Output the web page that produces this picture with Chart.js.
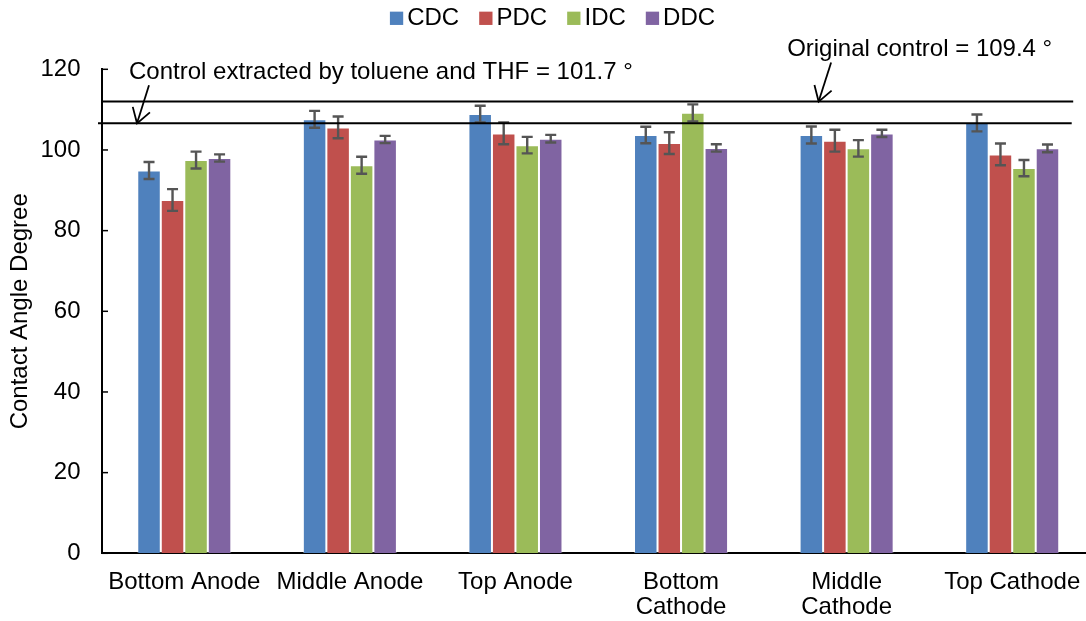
<!DOCTYPE html>
<html>
<head>
<meta charset="utf-8">
<script src="https://cdn.jsdelivr.net/npm/chart.js@4.4.1/dist/chart.umd.min.js"></script>
<style>
html,body{margin:0;padding:0;width:1086px;height:621px;overflow:hidden;background:#fff;}
#wrap{position:relative;width:1100px;height:621px;}
</style>
</head>
<body>
<div id="wrap"><canvas id="c"></canvas></div>
<script>
// ---- data ----
const categories = ["Bottom Anode", "Middle Anode", "Top Anode", ["Bottom", "Cathode"], ["Middle", "Cathode"], "Top Cathode"];
const seriesNames = ["CDC", "PDC", "IDC", "DDC"];
const CDC = [94.9, 107.6, 108.9, 103.7, 103.7, 106.7];
const PDC = [87.6, 105.6, 104.1, 101.7, 102.3, 98.9];
const IDC = [97.5, 96.2, 101.2, 109.2, 100.4, 95.5];
const DDC = [98.0, 102.6, 102.8, 100.5, 104.1, 100.4];
const CDC_err = [2.1, 2.1, 2.05, 2.05, 2.1, 2.1];
const PDC_err = [2.7, 2.7, 2.7, 2.7, 2.7, 2.7];
const IDC_err = [2.1, 2.1, 2.05, 2.1, 2.05, 2.0];
const DDC_err = [0.9, 0.9, 0.95, 0.9, 0.9, 0.95];
const yTicks = [0, 20, 40, 60, 80, 100, 120];
const controlOriginal = 112.0;   // drawn position of "Original control" line
const controlExtracted = 106.6;  // drawn position of "Control extracted" line
const labelOriginal = "Original control = 109.4 °";
const labelExtracted = "Control extracted by toluene and THF = 101.7 °";
const yTitle = "Contact Angle Degree";

const colors = ["#4F81BD", "#C0504D", "#9BBB59", "#8064A2"];
const values = [CDC, PDC, IDC, DDC];
const errors = [CDC_err, PDC_err, IDC_err, DDC_err];
const FONT = "'Liberation Sans', Arial, sans-serif";

function arrow(ctx, tx, ty, vx, vy) {
  ctx.beginPath();
  ctx.moveTo(tx + vx, ty + vy);
  ctx.lineTo(tx, ty);
  ctx.stroke();
  const ang = Math.atan2(vy, vx);
  const L = 17, a = 32 * Math.PI / 180;
  ctx.beginPath();
  ctx.moveTo(tx + L * Math.cos(ang - a), ty + L * Math.sin(ang - a));
  ctx.lineTo(tx, ty);
  ctx.lineTo(tx + L * Math.cos(ang + a), ty + L * Math.sin(ang + a));
  ctx.stroke();
}

const extras = {
  id: 'extras',
  afterDatasetsDraw(chart) {
    const ctx = chart.ctx, ys = chart.scales.y;
    ctx.save();
    ctx.strokeStyle = '#555555';
    ctx.lineWidth = 2.4;
    chart.data.datasets.forEach((ds, i) => {
      const meta = chart.getDatasetMeta(i);
      meta.data.forEach((el, j) => {
        const v = ds.data[j], e = errors[i][j];
        const yt = ys.getPixelForValue(v + e), yb = ys.getPixelForValue(v - e);
        const cx = el.x, hw = 5.5;
        ctx.beginPath();
        ctx.moveTo(cx, yt); ctx.lineTo(cx, yb);
        ctx.moveTo(cx - hw, yt); ctx.lineTo(cx + hw, yt);
        ctx.moveTo(cx - hw, yb); ctx.lineTo(cx + hw, yb);
        ctx.stroke();
      });
    });
    ctx.restore();
  },
  afterDraw(chart) {
    const ctx = chart.ctx, ys = chart.scales.y, xs = chart.scales.x, ca = chart.chartArea;
    ctx.save();
    ctx.strokeStyle = '#000';
    ctx.lineWidth = 1.5;
    ys.ticks.forEach(t => {
      const py = ys.getPixelForValue(t.value);
      ctx.beginPath(); ctx.moveTo(ca.left, py); ctx.lineTo(ca.left + 6.5, py); ctx.stroke();
    });
    const lastX = xs.getPixelForValue(categories.length - 1);
    const yU = ys.getPixelForValue(controlOriginal);
    const yL = ys.getPixelForValue(controlExtracted);
    ctx.lineWidth = 2;
    ctx.strokeStyle = '#000';
    ctx.beginPath(); ctx.moveTo(ca.left, yU); ctx.lineTo(lastX + 61, yU); ctx.stroke();
    ctx.beginPath(); ctx.moveTo(ca.left - 3.5, yL); ctx.lineTo(lastX + 59.5, yL); ctx.stroke();
    ctx.lineWidth = 1.8;
    const tipLx = ca.left + 35.5;
    arrow(ctx, tipLx, yL, 12, -38);
    const tipUx = xs.getPixelForValue(4) - 28;
    arrow(ctx, tipUx, yU, 12.5, -39);
    ctx.fillStyle = '#000';
    ctx.font = "24px " + FONT;
    ctx.textAlign = 'left';
    ctx.textBaseline = 'alphabetic';
    ctx.fillText(labelExtracted, ca.left + 27.5, yL - 44);
    ctx.fillText(labelOriginal, tipUx - 31.5, yU - 46);
    const box = 13.3, gapT = 4, gapI = 20, cy = 18.3;
    const widths = seriesNames.map(n => ctx.measureText(n).width);
    let total = 0;
    widths.forEach(w => total += box + gapT + w);
    total += gapI * (seriesNames.length - 1);
    let lx = chart.width / 2 + 2.5 - total / 2;
    ctx.textBaseline = 'middle';
    seriesNames.forEach((n, i) => {
      ctx.fillStyle = colors[i];
      ctx.fillRect(lx, cy - box / 2, box, box);
      ctx.fillStyle = '#000';
      ctx.fillText(n, lx + box + gapT, cy + 0.5);
      lx += box + gapT + widths[i] + gapI;
    });
    ctx.restore();
  }
};

const chart = new Chart(document.getElementById('c'), {
  type: 'bar',
  data: {
    labels: categories,
    datasets: seriesNames.map((n, i) => ({
      label: n,
      data: values[i],
      backgroundColor: colors[i],
      borderColor: 'rgba(255,255,255,0.35)',
      borderWidth: 1,
      categoryPercentage: 0.568,
      barPercentage: 1
    }))
  },
  options: {
    responsive: true,
    maintainAspectRatio: false,
    animation: false,
    devicePixelRatio: 1,
    layout: { padding: { top: 69.3, right: 5, left: 0, bottom: 0 } },
    plugins: { legend: { display: false }, tooltip: { enabled: false } },
    scales: {
      x: {
        grid: { display: false, drawTicks: false },
        border: { display: true, color: '#000', width: 2 },
        ticks: {
          color: '#000', font: { family: FONT, size: 24, lineHeight: 1.05 },
          padding: 16, maxRotation: 0, minRotation: 0, autoSkip: false
        },
        afterFit(s) { s.height = 621 - 553.3; }
      },
      y: {
        min: 0, max: 120,
        afterBuildTicks(s) { s.ticks = yTicks.map(v => ({ value: v })); },
        grid: { display: false, drawTicks: false },
        border: { display: true, color: '#000', width: 2 },
        ticks: { color: '#000', font: { family: FONT, size: 24 }, padding: 21 },
        title: { display: true, text: yTitle, color: '#000', font: { family: FONT, size: 24 }, padding: { top: 5.6, bottom: 0 } },
        afterFit(s) { s.width = 101.5; }
      }
    }
  },
  plugins: [extras]
});
</script>
</body>
</html>
